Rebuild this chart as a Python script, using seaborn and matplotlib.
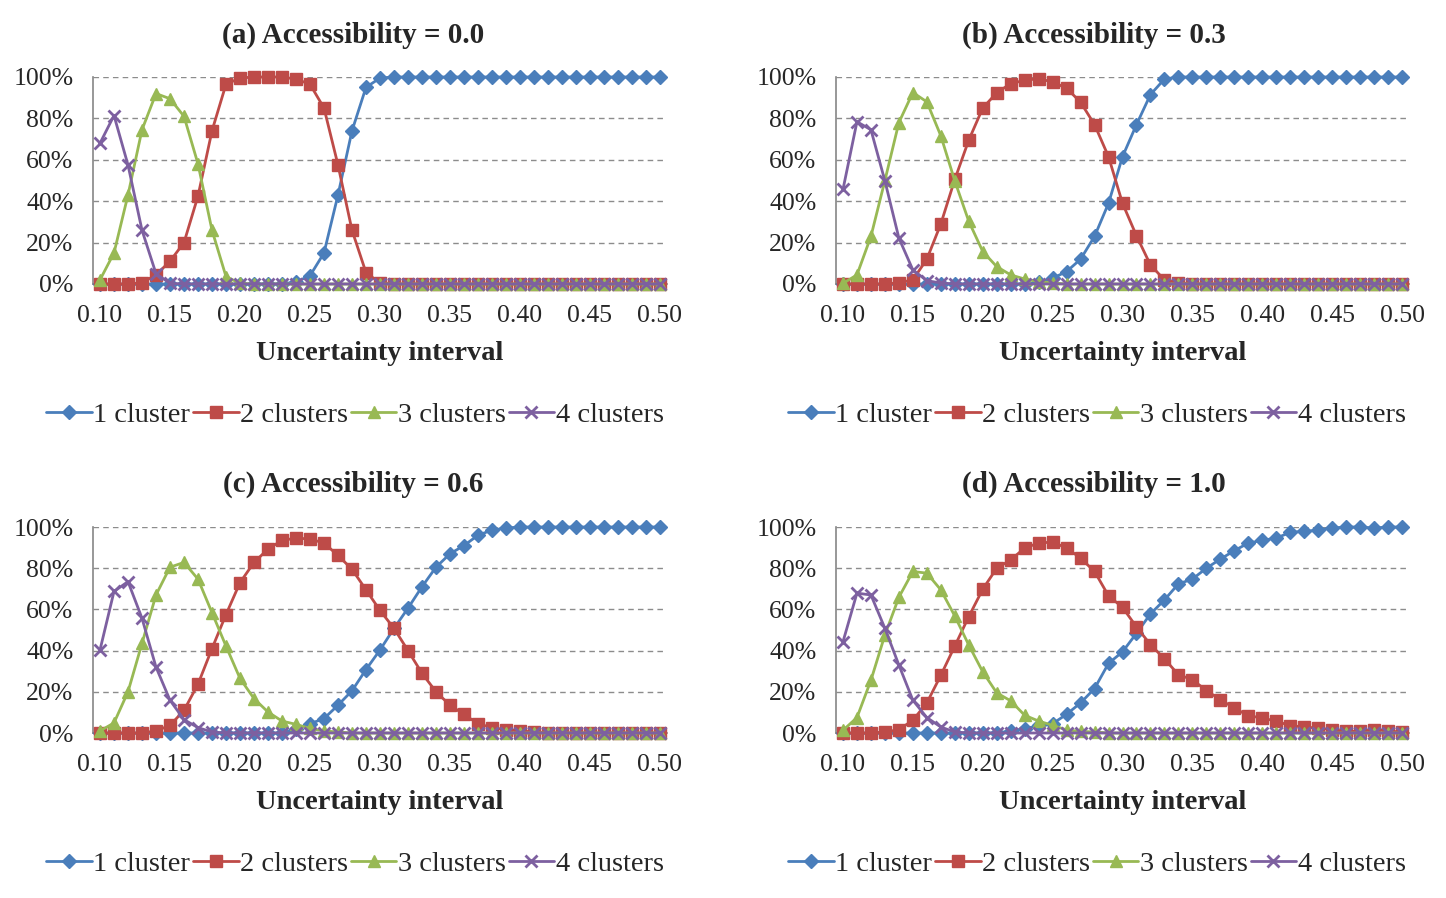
import numpy as np
import pandas as pd
import matplotlib
matplotlib.use("Agg")
import matplotlib.pyplot as plt
import seaborn as sns

# categories on the x axis (uncertainty interval 0.10 .. 0.50)
intervals = [round(0.10 + 0.01 * i, 2) for i in range(41)]
series_names = ["1 cluster", "2 clusters", "3 clusters", "4 clusters"]
panel_titles = ["(a) Accessibility = 0.0", "(b) Accessibility = 0.3",
                "(c) Accessibility = 0.6", "(d) Accessibility = 1.0"]

# (a) accessibility 0.0
a_one = [0] * 14 + [1, 4, 15, 43, 74, 95, 99.5] + [100] * 20
a_two = [0, 0, 0, 0.6, 4.4, 11, 20, 42.5, 74, 96.5, 99.5, 100, 100, 100, 99,
         96.5, 85, 57.5, 26, 5.5, 0.5] + [0] * 20
a_three = [2, 15, 43, 74.5, 92, 89.5, 81, 58, 26, 3.6, 0.3] + [0] * 30
a_four = [68, 81.4, 57.5, 26, 5, 0.3] + [0] * 35

# (b) accessibility 0.3
b_one = [0] * 14 + [1, 2.8, 6, 12, 23, 39, 61.5, 77, 91.5, 99] + [100] * 17
b_two = [0, 0, 0, 0, 0.6, 2, 12, 29, 50.5, 69.5, 85, 92.4, 96.8, 98.4, 99.2,
         97.6, 94.6, 87.8, 77, 61.5, 39, 23.3, 9.2, 2, 0.5] + [0] * 16
b_three = [0.3, 4.4, 23, 50, 78, 92.5, 88, 71.6, 49.8, 30.3, 15.7, 8.4, 4.4,
           2.4, 1.2, 0.5] + [0] * 25
b_four = [45.7, 78.4, 74.5, 49.8, 22.2, 6.8, 1.6, 0.5] + [0] * 33

# (c) accessibility 0.6
c_one = [0] * 14 + [2, 4.5, 7, 13.5, 20.5, 30.8, 40.3, 50.8, 60.6, 71, 80.5,
                    87, 91, 96, 98.5, 99.5] + [100] * 11
c_two = [0, 0, 0, 0, 1, 3.7, 11, 23.7, 41, 57.5, 73, 82.8, 89.3, 93.5, 94.6,
         94.2, 92.2, 86.2, 79.5, 69.5, 59.5, 50.8, 40, 29, 20, 13.5, 9, 4.5,
         2.6, 1.6, 1, 0.5] + [0] * 9
c_three = [1, 4.9, 20, 43.5, 67, 80.5, 82.8, 74.7, 58.4, 42.2, 26.5, 16.7,
           10.2, 5.8, 4.2, 2.2, 1, 0.5] + [0] * 23
c_four = [40.3, 68.7, 73.5, 55.7, 32, 15.9, 6.5, 2.6, 0.5] + [0] * 32

# (d) accessibility 1.0
d_one = [0] * 12 + [1, 2, 3.7, 4.5, 9.1, 14.6, 21.6, 33.8, 39.4, 48.4, 57.8,
                    64.6, 72.4, 74.7, 80, 84.4, 88.5, 92.2, 93.5, 94.6, 97.4,
                    97.9, 98.4, 99.5, 100, 100, 99.5, 100, 100]
d_two = [0, 0, 0, 0.5, 1.6, 6.2, 14.6, 28, 42.2, 56.5, 69.8, 80, 84, 89.8,
         92.2, 92.7, 89.8, 84.9, 78.4, 66.6, 61, 51.5, 42.9, 36, 28.3, 25.9,
         20.6, 16.2, 12.1, 8.4, 7.3, 5.7, 3.6, 2.9, 2.4, 1.6, 0.8, 0.8, 1.6,
         1.1, 0.3]
d_three = [1.3, 7.5, 25.6, 47.6, 65.9, 78.4, 77.6, 69.5, 56.8, 42.7, 29.7,
           19.5, 15.6, 8.6, 5.8, 3.7, 1.5, 0.8, 0.5] + [0] * 22
d_four = [44.3, 67.9, 67, 50.8, 33, 15.9, 7.5, 2.9, 0.5] + [0] * 32

panels = [
    [a_one, a_two, a_three, a_four],
    [b_one, b_two, b_three, b_four],
    [c_one, c_two, c_three, c_four],
    [d_one, d_two, d_three, d_four],
]

colors = ["#4A7EBB", "#BE4B48", "#98B954", "#7D60A0"]
markers = ["D", "s", "^", "x"]
msizes = [7.5, 8, 9, 8.5]

sns.set_style("white")
plt.rcParams["font.family"] = ["Liberation Serif", "DejaVu Serif"]
TICK_FS = 18.5
LABEL_FS = 20.5

fig = plt.figure(figsize=(14.46, 8.98), dpi=100)

# axes rectangles in figure fractions
rects = [
    [93 / 1446, 1 - 284 / 898, 574 / 1446, 207 / 898],
    [836 / 1446, 1 - 284 / 898, 573 / 1446, 207 / 898],
    [93 / 1446, 1 - 733 / 898, 574 / 1446, 206 / 898],
    [836 / 1446, 1 - 733 / 898, 573 / 1446, 206 / 898],
]
title_pos = [(353, 35), (1094, 35), (353, 484), (1094, 484)]
legend_pos = [(355, 415), (1097, 415), (355, 864), (1097, 864)]

for k in range(4):
    ax = fig.add_axes(rects[k])
    frame = pd.DataFrame({"x": intervals})
    for name, vals in zip(series_names, panels[k]):
        frame[name] = vals
    for j, name in enumerate(series_names):
        sns.lineplot(data=frame, x="x", y=name, ax=ax, color=colors[j],
                     marker=markers[j], markersize=msizes[j],
                     markeredgecolor=colors[j],
                     markeredgewidth=2 if markers[j] == "x" else 1,
                     linewidth=2, label=name, zorder=3 + j, clip_on=False)

    ax.set_xlim(0.095, 0.505)
    ax.set_ylim(0, 100)
    ax.set_yticks([0, 20, 40, 60, 80, 100])
    ax.set_yticklabels([f"{v}%" for v in [0, 20, 40, 60, 80, 100]],
                       fontsize=TICK_FS)
    ax.set_xticks([0.10, 0.15, 0.20, 0.25, 0.30, 0.35, 0.40, 0.45, 0.50])
    ax.set_xticklabels(["0.10", "0.15", "0.20", "0.25", "0.30", "0.35",
                        "0.40", "0.45", "0.50"], fontsize=TICK_FS)
    ax.set_xticks([0.095 + 0.01 * i for i in range(42)], minor=True)
    ax.tick_params(axis="x", which="major", length=0, pad=15)
    ax.tick_params(axis="x", which="minor", length=4, color="#868686",
                   direction="out")
    ax.tick_params(axis="y", length=6, color="#868686", direction="out",
                   pad=8)
    ax.yaxis.grid(True, linestyle=(0, (4, 3)), color="#8c8c8c", linewidth=1)
    ax.set_axisbelow(True)
    for side in ["top", "right"]:
        ax.spines[side].set_visible(False)
    for side in ["left", "bottom"]:
        ax.spines[side].set_color("#868686")
        ax.spines[side].set_linewidth(1.2)
    ax.set_xlabel("Uncertainty interval", fontsize=LABEL_FS,
                  fontweight="bold", labelpad=10)
    ax.set_ylabel("")

    handles, labels = ax.get_legend_handles_labels()
    ax.get_legend().remove()
    lx, ly = legend_pos[k]
    fig.legend(handles, labels, loc="center",
               bbox_to_anchor=(lx / 1446, 1 - ly / 898), ncol=4,
               frameon=False, fontsize=LABEL_FS, handlelength=1.6,
               handletextpad=0.05, columnspacing=0.1, borderpad=0)

    tx, ty = title_pos[k]
    fig.text(tx / 1446, 1 - ty / 898, panel_titles[k], ha="center",
             va="center", fontsize=21, fontweight="bold")

fig.savefig("out.png", dpi=100)
